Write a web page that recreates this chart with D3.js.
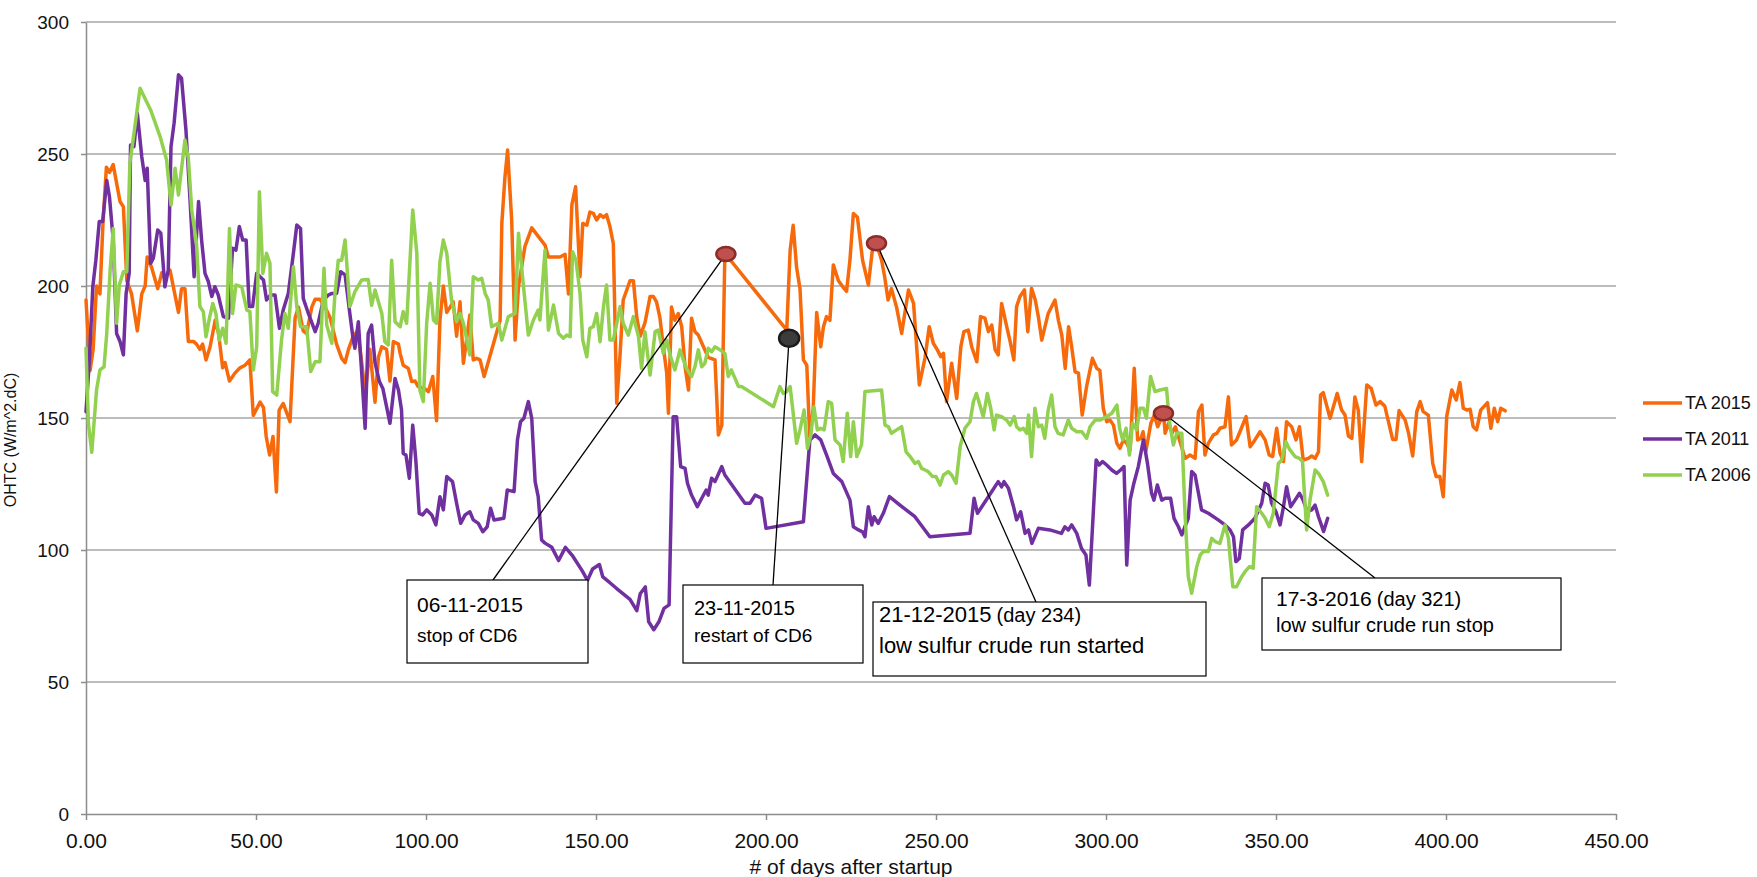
<!DOCTYPE html>
<html><head><meta charset="utf-8">
<script src="https://cdn.jsdelivr.net/npm/d3@7"></script>
<style>body{margin:0;background:#fff}svg{display:block;background:#fff}</style>
</head><body><svg id="c" width="1757" height="877"></svg>
<script>
// ---------- data ----------
const xTicks = [0,50,100,150,200,250,300,350,400,450];
const yTicks = [0,50,100,150,200,250,300];
const seriesNames = ["TA 2015","TA 2011","TA 2006"];
const xTitle = "# of days after startup";
const yTitle = "OHTC (W/m^2.dC)";

const ta2015 = [[0,194.7],[1.2,168],[2.1,176],[3.1,200],[4.1,197],[5,224],[6,245],[6.9,243],[8,246],[10,232],[11,230],[12,202],[13.4,197],[15.1,183],[16.4,197],[17.4,200],[18,211],[19.3,207],[21.1,199],[22.3,205],[23.2,203],[24.7,206],[27.2,190],[28.1,199],[29.1,199],[30.1,179],[31.6,179],[32.5,178],[33.5,176],[34.3,178],[35.3,172],[36.5,177],[38,187],[39,182],[40.2,169],[40.9,171],[42.2,164],[43.8,167],[45.3,169],[46.8,170],[48.2,172],[49.2,151],[51.2,156],[52.2,154],[53,143],[54,136],[55,143],[56,122],[56.8,153],[58,155.5],[60,148.6],[61.5,188],[62.5,192],[63.9,183],[64.9,182],[66.4,192],[67.4,195],[68.8,195],[70.3,192],[71.8,188],[73.7,178],[75.2,172.6],[76.2,171],[77.2,176],[78.6,181],[79.9,183],[81.1,171],[82.1,159],[83.5,176],[85,156],[86,173],[87,177],[88.4,176],[89.4,164],[90.4,179],[91.9,178],
[92.4,174.5],[93.3,170],[94.8,168.8],[95.8,163.8],[96.8,164],[97.7,161.9],[99.7,161],[100.7,160],[102,165.7],[103.1,149],[104.1,187],[105.1,200],[106.1,190],[107.1,192],[108,194],[109,181],[110,194],[111,170.7],[112.9,189],[113.9,172],[114.9,172.6],[115.9,172],[117.1,165.7],[121.8,187],[122.3,223.7],[123.2,241],[124,251.5],[125.2,225],[126.2,179.5],[127.2,199.7],[129.1,215],[131.1,222],[135,215.5],[136,211],[139.4,211],[140.9,212],[141.9,197],[142.9,230.7],[144,237.6],[145.3,203.5],[146.1,223.7],[147.3,223],[148.2,228],[149.2,227.5],[150.2,225],[151.2,227],[152.2,226],[153.1,227],[154.1,222.5],[155.1,216],[156.1,155.6],[157.1,174.5],[158,194.7],[160,202],[161,202],[162,188],[163,181],[164.4,186],[165.9,196],[166.9,196],[167.8,194],[168.8,188],[169.8,177],[170.8,167],[171.3,151.8],[172.2,192],[173.2,187],[174.2,189.6],[175.2,184.6],[176.2,169.4],[177.2,160.6],[178.1,187.8],[179.1,182.7],[180.1,181.4],[181.6,177],[183,173],[185,172],[186,143.6],[187,147.3],[187.9,212.4],[206.1,183.3],[207.1,213.6],[208,223],[209,207],[210,199],[211,172],[212,170],[212.9,141.7],[213.9,154],[214.9,190],[216.1,177],[216.9,184.6],[217.8,188.4],[218.8,187],[219.8,208],[221.3,202],[222.7,199.5],[223.7,198],[224.7,210],[225.7,227.5],[226.9,226],
[228.4,209.8],[230.1,200.4],[231.4,214.9],[232.5,216],[234,209.8],[234.9,203.5],[235.9,194.7],[236.9,199],[238.4,192],[239.9,182],[241.9,198.5],[243.4,193.4],[245.1,162.5],[246.8,173],[248,184.6],[249.2,178.3],[250.4,175.8],[251.4,173.2],[252.2,174.5],[253.1,156.2],[254.6,170.7],[256.1,157.4],[257.3,177],[258.2,182.7],[259.5,183.3],[260.5,177],[262,171.3],[263.1,188.4],[264.4,187.8],[265.4,182.7],[266.4,185.2],[267.4,175.8],[268.3,173.9],[269.3,193.4],[270.8,184.6],[271.8,179],[272.9,172],[273.7,192.2],[274.7,196],[276,198.5],[277,182.7],[278.1,199.1],[279.2,194.7],[280.1,188.4],[281.1,179.5],[283,189.6],[285,194.7],[286,187],[287,181.4],[288,168.8],[289,184.6],[289.9,177],[290.9,167.5],[291.9,167],[293,151.1],[294.3,162],[296,172.6],[297.3,168.8],[298.2,168],[299.2,153.7],[300.2,148.6],[301.2,149.2],[302.2,147.3],[303.2,140.4],[304.1,138.5],[305.1,141.7],[306.1,140.4],[307.1,137.9],[308.3,168.8],[309.3,141.7],[310.3,142.3],[310.9,144.8],[311.7,137.2],[313.2,148],[314.2,151.1],[315.2,146.7],[316.9,151.8],[317.4,144.2],[318.4,148],[319.4,144.2],[320.4,146.7],[321.9,140.4],[323.3,134.7],[324.7,136],[326.2,134.7],[327.2,152.4],[328.2,154.9],[329.1,136],[330.1,140.4],[331.6,143.6],[332.6,144.2],[333.5,146.1],[335,146.7],[336,158],[336.9,139.8],[338.4,141.7],[339.4,144.8],[341.2,150.5],
[342.4,139.1],[343.8,141.7],[345.3,144.8],[346.8,141.7],[348,136],[349,135.4],[350.2,146.1],[351.2,136.6],[352.2,133.5],[353.1,148.6],[354.6,146.7],[355.9,141.7],[356.9,146.7],[358,134.1],[359.5,134.7],[360.5,135.6],[361.5,134.7],[362.5,137.2],[363.1,158.7],[363.9,159.6],[365.9,149.9],[368,159.3],[369.3,153],[370.3,151.1],[371.3,143.2],[372.3,142.3],[373.2,158],[374.2,153],[375.2,133.5],[376.7,162.5],[378,161.2],[379.4,154.9],[380.6,156.2],[382,154.5],[384.3,141.9],[385.3,141.9],[386.2,152.8],[388,149.2],[389,144.2],[390.2,135.6],[391.4,152.4],[392.4,156.2],[393.3,152.4],[394.8,151.1],[396.1,132.8],[397.1,127.8],[398.2,127.8],[399.2,120.2],[400.2,150.5],[401.7,160.6],[403,156.8],[404.1,163.4],[405.1,153.7],[406.1,153],[407.1,153.3],[408,146.7],[409,145.5],[410.2,153],[412.2,155.8],[413.2,146.1],[414.2,153.7],[415.2,148.6],[416.1,153.7],[417.4,152.7]];

const ta2011 = [[0,152.4],[1,172],[2,199.7],[2.9,209.8],[3.9,224.4],[4.9,224.4],[6.1,240],[6.9,233.8],[8,217.4],[9,182],[10,179],[11,173.9],[11.8,197.2],[12.7,204.8],[13.1,253.4],[14.1,252.8],[15.1,265.4],[16.4,249],[17.4,240],[18,244.6],[19,208.6],[19.8,210.5],[21.1,221.2],[22,220],[23.2,199.7],[24.2,206],[25,252.8],[25.9,261.6],[27.2,280],[28.1,278.7],[29.4,259],[30.6,232.6],[31.8,203.5],[33.1,232],[34,217.4],[35,204.8],[36,201.6],[37,196],[37.9,199.7],[38.9,196.6],[40.4,188.4],[41.9,187.8],[43.1,214.3],[44.1,213.6],[45.1,222.5],[46.1,217.4],[47.1,217.4],[48,192.2],[49,192.2],[50.2,204.8],[51.2,203.5],[52.2,202.3],[53.1,194.7],[54.3,196.6],[55.6,196.6],[56.9,184],[58,190.9],[59.5,197.2],[61,212.4],[62,223.1],[63.1,221.8],[63.9,195.3],[65.4,189.6],[67.4,182.7],[68.3,185.9],[69.8,194.7],[71.3,196.6],[72.3,197.2],[73.7,197.2],[74.9,205.4],[76.2,204.2],[77.6,189.6],[78.6,179.5],[79.1,176.4],[80.1,186.5],[81.1,166.9],[82.1,146.1],[83,182],[84,185.2],[85,171],[86.3,163.8],[87.3,161.2],[88.4,154.3],[89.4,148],[90.9,165],[91.9,160.6],[92.8,153],[93.3,136.6],[94.1,136],[95.1,127.2],[96.1,147.3],[97,134.1],[98,113.9],[99,113.3],[100.2,115.2],[101.7,113.3],[102.9,109.5],[104.1,120.2],[105.1,115.2],[106.1,127.8],[107.8,125.9],[109,117.7],[110.2,110.1],[111.5,113.3],[112.9,114.5],[113.9,111.4],[115.4,110.1],[116.7,106.9],[118,108.8],[119,115.8],[120,111.4],[122.9,112],[123.9,122.7],[125.9,122.1],[126.9,141.7],[127.8,148.6],[128.8,149.9],[130.1,156.2],[131.1,149.9],[132.1,125.9],[133,120.2],[134,103.8],[135,102.6],[137,101],[139,96],[141,101],[143,98],[146,92],[147.5,88.5],[149,92.8],[151,94.5],[152,89.8],[154,87.7],[156,85.5],[158,83.4],[160,81.3],[162,77],[163,83.4],[164.5,86],[165.5,72.8],[167,69.8],[168.5,72.8],[170,77.9],[171.5,79.2],[172.7,150.5],[173.7,150.5],[174.9,131.6],[176.2,130.9],[176.9,125.3],[178.1,120.8],[179.8,116.4],[181.1,119.6],[182.4,122.7],[183,120.8],[184,127.2],[185,125.9],[187,131.6],[187.9,128.4],[193.8,117.7],[195.3,117.7],[196.8,120.8],[198.7,119.6],[200,108.2],[211,110.7],[212.9,141.7],[214.4,143.6],[216.1,141.7],[217.8,136],[219.8,129],[222.3,125.9],[224.7,118.9],[225.7,108.8],[227.2,107.6],[228.4,106.9],[229.1,105],[230.1,116.4],[231.1,109.5],[231.8,112.6],[233,110.1],[234.5,113.9],[236.3,120.2],[239.4,117],[243.8,112.6],[248.2,105],[260,106.3],[261.2,119.6],[262.2,113.9],[265.4,120.2],[268.3,125.9],[269.3,123.9],[270,125.9],[271.3,123.4],[272.8,116.4],[273.7,111.4],[274.9,114.5],[276.2,106.3],[277.2,107.6],[278.2,102.5],[280.1,108.2],[283.5,107.6],[286.9,106.3],[287.9,108.8],[288.9,107.6],[289.9,109.5],[291.4,106.3],[292.8,100.6],[294.1,98.1],[295.1,86.7],[297.1,134.1],[298,132.2],[299,133.5],[300.2,132.2],[301.7,130.3],[303.1,129],[304.3,130.3],[305.3,131.6],[306.1,94.3],[307.1,118.9],[308.2,125.3],[309.5,131.6],[311,141.7],[312.2,132.8],[313.4,121.5],[314.1,118.9],[315.1,124.6],[316.4,118.9],[317.4,119.6],[319,119.6],[320,112],[321.3,108.8],[322.3,105.7],[323.2,108.8],[324.2,112],[325.2,129.7],[326.2,128.4],[327.2,121.5],[328.1,115.2],[330.1,113.9],[333,111.4],[335,109.5],[336.5,107.6],[337.5,105],[338.2,95.6],[339.2,96.8],[340.2,107.6],[341.9,109.5],[343.8,112],[345.8,117.7],[346.8,125.3],[347.7,124.6],[348.7,117.7],[350,114.5],[351.2,109.5],[352.2,116.4],[353.1,124],[354.3,116.4],[355.6,118.9],[356.9,121.5],[358,118.9],[359.2,114.5],[360.5,115.2],[361.5,117],[362.5,112.6],[364,107],[365.2,112]];

const ta2006 = [[0,176.4],[0.7,148],[1.7,137],[3.1,160.6],[4.1,168.2],[5.3,169.4],[6.1,182],[7.1,206],[8,221.8],[9,185.9],[9.8,200.4],[11,205.4],[12,205.4],[12.9,246.5],[14.1,257.8],[15.9,274.9],[19,266.7],[21.8,256.6],[23.7,247.7],[25,230.7],[26.2,244.6],[27.2,234.5],[29.1,255.3],[30.1,248.4],[31.1,228.8],[32.5,216.2],[33.5,192.2],[34.5,190.3],[35.3,180.8],[36.3,187.8],[37.3,193.4],[38.2,189.6],[39.2,179.5],[40.2,184],[41.2,178.3],[42.2,221.8],[43.1,189.6],[44.1,200.4],[45.8,199.7],[47.3,190.9],[48.2,190.3],[49.2,168.2],[50.2,177],[51,235.7],[52,204.8],[53.1,212.4],[54.1,208.6],[54.9,160],[56.1,158.7],[57.5,179.5],[58.5,189.6],[59.5,184],[61,207.3],[62,192.2],[63.1,184.6],[64.9,184.6],[66.1,167.6],[67.4,171.3],[68.8,171.3],[70,206.7],[70.8,185.2],[72.3,178.3],[73.2,196.6],[74.2,209.8],[75.2,209.8],[76.2,217.4],[77.6,192.2],[79.1,197.9],[81.1,202.3],[83,202.5],[84,192.7],[85,198.5],[87,189.6],[87.9,178.9],[88.9,177.7],[89.9,209.8],[90.9,186.5],[92.4,184.6],[93.3,190.3],[94.3,185.9],[96.1,228.8],[97.3,212.4],[98.2,160.6],[99.2,156.2],[100.2,185.9],[101.2,201],[102.2,187.1],[103.1,185.9],[104.1,209.2],[105.1,217.4],[106.1,212.4],[107.5,194.7],[109,186.5],[110,189.6],[111,185.9],[112.9,173.9],[113.9,203.5],[115.4,202.3],[116.4,202.9],[117.4,197.2],[118.3,194.7],[119.3,184.6],[121.3,185.9],[122.3,179.5],[124.2,188.4],[126.2,189.6],[127.2,220],[128.1,207.3],[130.1,181.4],[131.6,187.1],[133,190.9],[133.5,187.1],[135,213.6],[136,183.3],[137.5,192.8],[139,182],[140.4,180.2],[141.4,181.4],[142.4,180.8],[143.1,213],[144.1,209.8],[145.3,197.2],[146.1,179.5],[147.3,173.2],[148.2,184],[149.2,184.6],[150.2,189.6],[151.2,178.9],[152.2,192.2],[153.1,200.4],[154.1,179.5],[155.1,179.5],[157.1,192.2],[158,185.9],[159.5,181.4],[161,188.4],[162.5,180.8],[163.4,168.8],[164.4,182.7],[165.9,166.3],[167.4,182.7],[168.3,183.3],[169.8,174.5],[170.8,179.5],[171.8,173.9],[173.2,168.2],[174.7,175.8],[175.7,172],[176.6,168.8],[178.1,165.7],[179.1,169.4],[180.1,175.8],[181.1,169.4],[182,170.7],[183,176.4],[184,175.1],[185,177],[186.5,175.8],[187.9,174.5],[188.9,165.7],[189.8,168.2],[190.9,165],[191.9,161.9],[192.8,161.9],[202.2,154.3],[204.1,161.9],[205.1,159.3],[206.1,160],[207.1,161.9],[208,151.8],[209,140.4],[210,145.5],[211.2,153],[212.2,138.5],[213.2,143.6],[214.1,154.3],[215.1,145.5],[216.1,146.1],[217.1,145.5],[218.3,156.2],[219.3,155.6],[220.3,141.7],[221.8,139.8],[222.7,133.5],[223.9,151.8],[224.9,135.4],[225.7,148.6],[226.7,135.4],[228.1,139.8],[229.1,160],[234,160.6],[235,147.3],[236,146.7],[236.9,144.2],[238.4,145.5],[239.9,146.7],[241.2,137.2],[242.4,135.4],[243.8,132.8],[244.8,133.5],[245.8,130.9],[246.8,130.3],[247.7,129.7],[249,127.8],[250,127.8],[251.2,124.6],[252.2,128.4],[253.6,129.7],[254.6,128.4],[255.9,125.3],[257.1,139.1],[258.5,146.1],[260,148.6],[261,156.2],[261.9,159.3],[262.9,154.9],[263.9,150.5],[265.1,159.3],[266.1,153.7],[267.1,145.5],[267.8,151.1],[269.3,150.5],[270.8,149.2],[271.8,147.3],[273,150.5],[273.7,146.7],[274.7,145.5],[275.7,146.1],[276.7,144.2],[277.2,151.1],[278.1,135.4],[279.1,153.7],[280.1,146.7],[281.1,147.3],[282,142.3],[283,153],[284,158.7],[285,146.7],[285.9,144.2],[287.4,143.6],[288.9,149.2],[289.9,146.1],[291.4,144.8],[292.9,144.8],[294.3,142.3],[295.3,146.7],[296.8,149.2],[298.2,149.2],[300.2,150.5],[301.7,151.8],[303.2,154.9],[304,146.1],[304.9,141.7],[305.9,146.1],[306.9,136],[307.8,148],[309,145.5],[310,153.7],[311,153.7],[311.9,149.9],[313.1,165.7],[314.4,160],[315.9,160.6],[317.8,161.2],[318.6,149.2],[319.8,139.8],[320.8,144.2],[322.3,144.2],[323.2,115.2],[324.2,89.9],[325.2,83.6],[326.7,93.7],[327.7,98.1],[328.6,99.4],[330.1,99.4],[331.1,104.4],[332.1,103.2],[333.5,102.5],[335,109.5],[336,104.4],[337.3,86.1],[338.4,86.1],[339.9,89.9],[340.9,91.8],[342.2,93.7],[343.3,93.1],[344.3,116.4],[345.8,113.9],[346.8,112],[348,108.8],[349.2,113.9],[350.7,132.8],[351.7,134.1],[352.9,141],[354.1,137.9],[355.6,135.4],[356.9,134.7],[357.8,133.5],[359,107.6],[360,118.9],[361.5,130.3],[362.5,129],[363.9,125.9],[365.2,120.8]];

// event markers (day, value) and their notes
const eventDays   = [188.2, 206.8, 232.5, 316.9];
const eventValues = [212.1, 180.2, 216.2, 151.8];
const eventKinds  = ["stop", "restart", "stop", "stop"];
const eventLine1  = ["06-11-2015", "23-11-2015", "21-12-2015", "17-3-2016"];
const eventDayTag = ["", "", "(day 234)", "(day 321)"];
const eventLine2  = ["stop of CD6", "restart of CD6", "low sulfur crude run started", "low sulfur crude run stop"];

// ---------- layout / style ----------
const W = 1757, H = 877;
const plot = {left: 86, right: 1616, top: 22, bottom: 814};
const colors = ["#F76A0B", "#7030A0", "#92D050"];
const gridColor = "#a6a6a6";
const boxLayout = [
  {x: 407, y: 580, w: 181, h: 83, ax: 493, pad: 10, t1: 612, t2: 642, f1: 21, ft: 20, f2: 19},
  {x: 683, y: 585, w: 180, h: 78, ax: 773, pad: 11, t1: 615, t2: 642, f1: 20, ft: 20, f2: 19},
  {x: 873, y: 602, w: 333, h: 74, ax: 1036, pad: 6, t1: 622, t2: 653, f1: 22, ft: 20, f2: 22},
  {x: 1262, y: 578, w: 299, h: 72, ax: 1375, pad: 14, t1: 606, t2: 632, f1: 21, ft: 20, f2: 20}
];

const svg = d3.select("#c");
svg.append("rect").attr("width", W).attr("height", H).attr("fill", "#fff");

const x = d3.scaleLinear().domain([0, 450]).range([plot.left, plot.right]);
const y = d3.scaleLinear().domain([0, 300]).range([plot.bottom, plot.top]);

// gridlines
svg.append("g").selectAll("line").data(yTicks.filter(v => v > 0)).join("line")
  .attr("x1", plot.left).attr("x2", plot.right)
  .attr("y1", d => y(d)).attr("y2", d => y(d))
  .attr("stroke", gridColor).attr("stroke-width", 1.5);

// y axis
const gy = svg.append("g").attr("transform", `translate(${plot.left},0)`)
  .call(d3.axisLeft(y).tickValues(yTicks).tickSize(5).tickSizeOuter(0).tickPadding(12).tickFormat(d3.format("d")));
gy.selectAll("path,line").attr("stroke", "#8c8c8c").attr("stroke-width", 1.5);
gy.selectAll("text").attr("font-family", "'Liberation Sans', Arial, sans-serif").attr("font-size", 19).attr("fill", "#111");

// x axis
const gx = svg.append("g").attr("transform", `translate(0,${plot.bottom})`)
  .call(d3.axisBottom(x).tickValues(xTicks).tickSize(6).tickSizeOuter(0).tickPadding(13).tickFormat(d3.format(".2f")));
gx.selectAll("path,line").attr("stroke", "#8c8c8c").attr("stroke-width", 1.5);
gx.selectAll("text").attr("font-family", "'Liberation Sans Narrow', 'Liberation Sans', Arial, sans-serif").attr("font-size", 21).attr("fill", "#111");

// axis titles
svg.append("text").attr("x", 851).attr("y", 874).attr("text-anchor", "middle")
  .attr("font-family", "'Liberation Sans Narrow', 'Liberation Sans', Arial, sans-serif").attr("font-size", 21).attr("fill", "#111")
  .text(xTitle);
svg.append("text").attr("transform", "translate(16,440) rotate(-90)").attr("text-anchor", "middle")
  .attr("font-family", "'Liberation Sans', Arial, sans-serif").attr("font-size", 16).attr("fill", "#111")
  .text(yTitle);

// series lines
const line = d3.line().x(d => x(d[0])).y(d => y(d[1]));
const allSeries = [ta2015, ta2011, ta2006];
svg.append("g").selectAll("path").data(allSeries).join("path")
  .attr("d", line).attr("fill", "none")
  .attr("stroke", (d, i) => colors[i]).attr("stroke-width", 3.5)
  .attr("stroke-linejoin", "round").attr("stroke-linecap", "round");

// annotation leader lines, boxes and texts
const ann = svg.append("g");
eventDays.forEach((d, i) => {
  const b = boxLayout[i];
  ann.append("line").attr("x1", x(d)).attr("y1", y(eventValues[i])).attr("x2", b.ax).attr("y2", b.y)
    .attr("stroke", "#000").attr("stroke-width", 1.3);
});
eventDays.forEach((d, i) => {
  const b = boxLayout[i];
  ann.append("rect").attr("x", b.x).attr("y", b.y).attr("width", b.w).attr("height", b.h)
    .attr("fill", "#fff").attr("stroke", "#000").attr("stroke-width", 1.2);
  const t1 = ann.append("text").attr("x", b.x + b.pad).attr("y", b.t1)
    .attr("font-family", "'Liberation Sans', Arial, sans-serif").attr("fill", "#000");
  t1.append("tspan").attr("font-size", b.f1).text(eventLine1[i]);
  if (eventDayTag[i]) t1.append("tspan").attr("dx", 5).attr("font-size", b.ft).text(eventDayTag[i]);
  ann.append("text").attr("x", b.x + b.pad).attr("y", b.t2)
    .attr("font-family", "'Liberation Sans', Arial, sans-serif").attr("font-size", b.f2).attr("fill", "#000")
    .text(eventLine2[i]);
});
// markers
svg.append("g").selectAll("ellipse").data(eventDays).join("ellipse")
  .attr("cx", d => x(d)).attr("cy", (d, i) => y(eventValues[i]))
  .attr("rx", (d, i) => eventKinds[i] === "restart" ? 10 : 9.5)
  .attr("ry", (d, i) => eventKinds[i] === "restart" ? 8.5 : 7)
  .attr("fill", (d, i) => eventKinds[i] === "restart" ? "#3c3c3c" : "#C0504D")
  .attr("stroke", (d, i) => eventKinds[i] === "restart" ? "#1c1c1c" : "#8A2C2A")
  .attr("stroke-width", 2.5);

// legend
const lg = svg.append("g");
seriesNames.forEach((n, i) => {
  const ly = 403 + i * 36;
  lg.append("line").attr("x1", 1643).attr("x2", 1682).attr("y1", ly).attr("y2", ly)
    .attr("stroke", colors[i]).attr("stroke-width", 3.5);
  lg.append("text").attr("x", 1685).attr("y", ly).attr("dy", "0.35em")
    .attr("font-family", "'Liberation Sans', Arial, sans-serif").attr("font-size", 18).attr("fill", "#111").text(n);
});
</script></body></html>
